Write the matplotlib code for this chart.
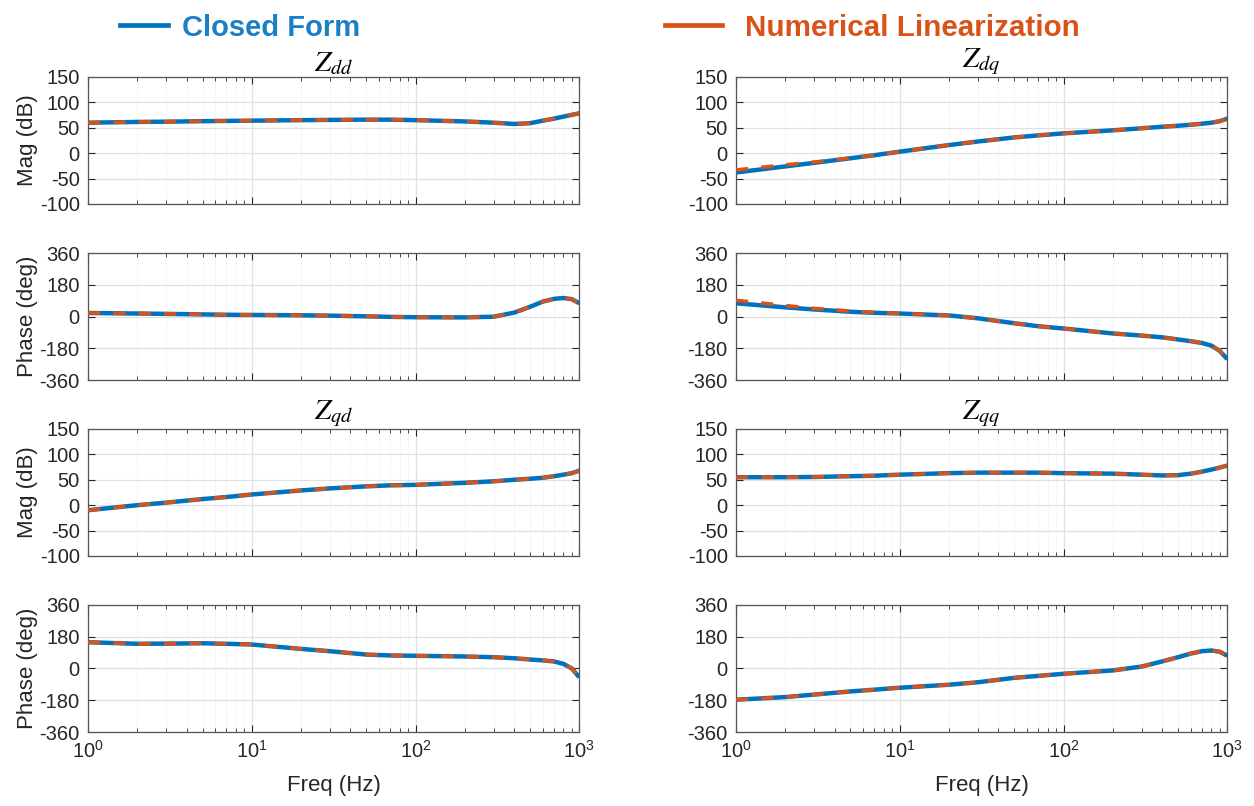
import numpy as np
import matplotlib.pyplot as plt
from matplotlib.lines import Line2D
from matplotlib.ticker import FuncFormatter, LogLocator, NullFormatter

plt.rcParams['font.family'] = ['Liberation Sans', 'DejaVu Sans']
plt.rcParams['mathtext.fontset'] = 'stix'
plt.rcParams['axes.unicode_minus'] = False

# frequency points (Hz)
freq = [1, 2, 3, 5, 7, 10, 20, 30, 50, 70, 100, 200, 300, 400, 500, 600, 700, 800, 900, 1000]

# Z_dd
zdd_mag_cf = [60, 61.5, 62, 63, 63.5, 64, 65, 65.5, 66, 66, 65, 62.5, 60, 57.5, 59, 64, 68, 72, 75.5, 78.5]
zdd_mag_nl = [60, 61.5, 62, 63, 63.5, 64, 65, 65.5, 66, 66, 65, 62.5, 60, 57.5, 59, 64, 68, 72, 75.5, 78.5]
zdd_ph_cf = [20, 17, 15, 12, 10, 9, 7, 5, 1, -2, -4, -5, -1, 22, 55, 85, 100, 105, 98, 75]
zdd_ph_nl = [20, 17, 15, 12, 10, 9, 7, 5, 1, -2, -4, -5, -1, 22, 55, 85, 100, 105, 98, 75]

# Z_dq
zdq_mag_cf = [-38, -26, -19, -10, -4, 3, 16, 23, 31, 35, 39, 45, 49, 52, 54, 56, 58, 60, 63, 68]
zdq_mag_nl = [-33, -23, -17.5, -9.5, -4, 3, 16, 23, 31, 35, 39, 45, 49, 52, 54, 56, 58, 60, 63, 68]
zdq_ph_cf = [75, 52, 40, 27, 21, 17, 6, -10, -38, -55, -68, -96, -108, -118, -130, -140, -150, -165, -195, -242]
zdq_ph_nl = [92, 62, 46, 31, 23, 18, 6, -10, -38, -55, -68, -96, -108, -118, -130, -140, -150, -165, -195, -242]

# Z_qd
zqd_mag_cf = [-10, 0, 5, 12, 16, 21, 29, 33, 37, 39, 40, 44, 47, 50, 52, 54, 57, 60, 63, 68]
zqd_mag_nl = [-10, 0, 5, 12, 16, 21, 29, 33, 37, 39, 40, 44, 47, 50, 52, 54, 57, 60, 63, 68]
zqd_ph_cf = [149, 140, 141, 143, 140, 136, 111, 98, 79, 74, 72, 68, 64, 58, 51, 46, 40, 26, 0, -50]
zqd_ph_nl = [149, 140, 141, 143, 140, 136, 111, 98, 79, 74, 72, 68, 64, 58, 51, 46, 40, 26, 0, -50]

# Z_qq
zqq_mag_cf = [55, 55, 55.5, 57, 58, 60, 63, 64, 64, 64, 63, 62, 60, 58.5, 59, 62, 66, 70, 74, 78]
zqq_mag_nl = [55, 55, 55.5, 57, 58, 60, 63, 64, 64, 64, 63, 62, 60, 58.5, 59, 62, 66, 70, 74, 78]
zqq_ph_cf = [-177, -162, -148, -130, -120, -109, -92, -78, -53, -42, -30, -11, 11, 40, 64, 85, 98, 102, 95, 72]
zqq_ph_nl = [-177, -162, -148, -130, -120, -109, -92, -78, -53, -42, -30, -11, 11, 40, 64, 85, 98, 102, 95, 72]

mag_ticks = [-100, -50, 0, 50, 100, 150]
ph_ticks = [-360, -180, 0, 180, 360]

BLUE = '#0072BD'
ORANGE = '#D95319'
TXT = '#262626'

fig = plt.figure(figsize=(12.54, 8.06), dpi=100)

lefts = [0.0702, 0.5869]
width = 0.3918
bottoms = [0.7469, 0.5285, 0.3102, 0.0918]
height = 0.1576

panels = [
    # (col, row, closed form, numerical, kind, title)
    (0, 0, zdd_mag_cf, zdd_mag_nl, 'mag', r'$Z_{dd}$'),
    (0, 1, zdd_ph_cf, zdd_ph_nl, 'ph', None),
    (1, 0, zdq_mag_cf, zdq_mag_nl, 'mag', r'$Z_{dq}$'),
    (1, 1, zdq_ph_cf, zdq_ph_nl, 'ph', None),
    (0, 2, zqd_mag_cf, zqd_mag_nl, 'mag', r'$Z_{qd}$'),
    (0, 3, zqd_ph_cf, zqd_ph_nl, 'ph', None),
    (1, 2, zqq_mag_cf, zqq_mag_nl, 'mag', r'$Z_{qq}$'),
    (1, 3, zqq_ph_cf, zqq_ph_nl, 'ph', None),
]

for col, row, cf, nl, kind, title in panels:
    ax = fig.add_axes([lefts[col], bottoms[row], width, height])
    ax.semilogx(freq, cf, color=BLUE, lw=3.2, solid_capstyle='butt', zorder=3)
    l2, = ax.semilogx(freq, nl, color=ORANGE, lw=2.6, zorder=4)
    l2.set_dashes([3.4, 3.6])
    ax.set_xlim(1, 1000)
    if kind == 'mag':
        ax.set_ylim(-100, 150)
        ax.set_yticks(mag_ticks)
        if col == 0:
            ax.set_ylabel('Mag (dB)', fontsize=16, color=TXT, labelpad=1)
    else:
        ax.set_ylim(-360, 360)
        ax.set_yticks(ph_ticks)
        if col == 0:
            ax.set_ylabel('Phase (deg)', fontsize=16, color=TXT, labelpad=1)
    if title:
        ax.set_title(title, fontsize=21, pad=3)

    ax.xaxis.set_major_locator(LogLocator(base=10, numticks=10))
    ax.xaxis.set_minor_locator(LogLocator(base=10, subs=np.arange(2, 10), numticks=10))
    ax.xaxis.set_minor_formatter(NullFormatter())
    if row == 3:
        ax.xaxis.set_major_formatter(FuncFormatter(lambda v, p: r'$\mathregular{10^{%d}}$' % round(np.log10(v))))
        ax.set_xlabel('Freq (Hz)', fontsize=16, color=TXT, labelpad=9)
    else:
        ax.xaxis.set_major_formatter(NullFormatter())

    ax.grid(True, which='major', color='#e0e0e0', lw=0.9, ls='-')
    ax.grid(True, which='minor', axis='x', color='#e2e2e2', lw=0.6, ls=':')
    ax.set_axisbelow(True)
    ax.tick_params(which='both', direction='in', top=True, right=True,
                   colors=TXT, labelsize=14.5, pad=6)
    ax.tick_params(which='major', length=5, width=0.8)
    ax.tick_params(which='minor', length=3, width=0.6)
    for s in ax.spines.values():
        s.set_color('#555555')
        s.set_linewidth(0.9)

# legend entries across the top, one legend per entry
leg1 = fig.legend([Line2D([], [], color=BLUE, lw=3.4)], ['Closed Form'],
                  loc='upper left', bbox_to_anchor=(0.089, 0.994),
                  frameon=False, borderpad=0.3, borderaxespad=0,
                  handlelength=1.65, handletextpad=0.45,
                  prop={'weight': 'bold', 'size': 21})
leg1.get_texts()[0].set_color('#1a7fc4')
leg2 = fig.legend([Line2D([], [], color=ORANGE, lw=3.4)], ['Numerical Linearization'],
                  loc='upper left', bbox_to_anchor=(0.523, 0.994),
                  frameon=False, borderpad=0.3, borderaxespad=0,
                  handlelength=1.95, handletextpad=0.75,
                  prop={'weight': 'bold', 'size': 21.3})
leg2.get_texts()[0].set_color(ORANGE)

fig.savefig('out.png', dpi=100)
